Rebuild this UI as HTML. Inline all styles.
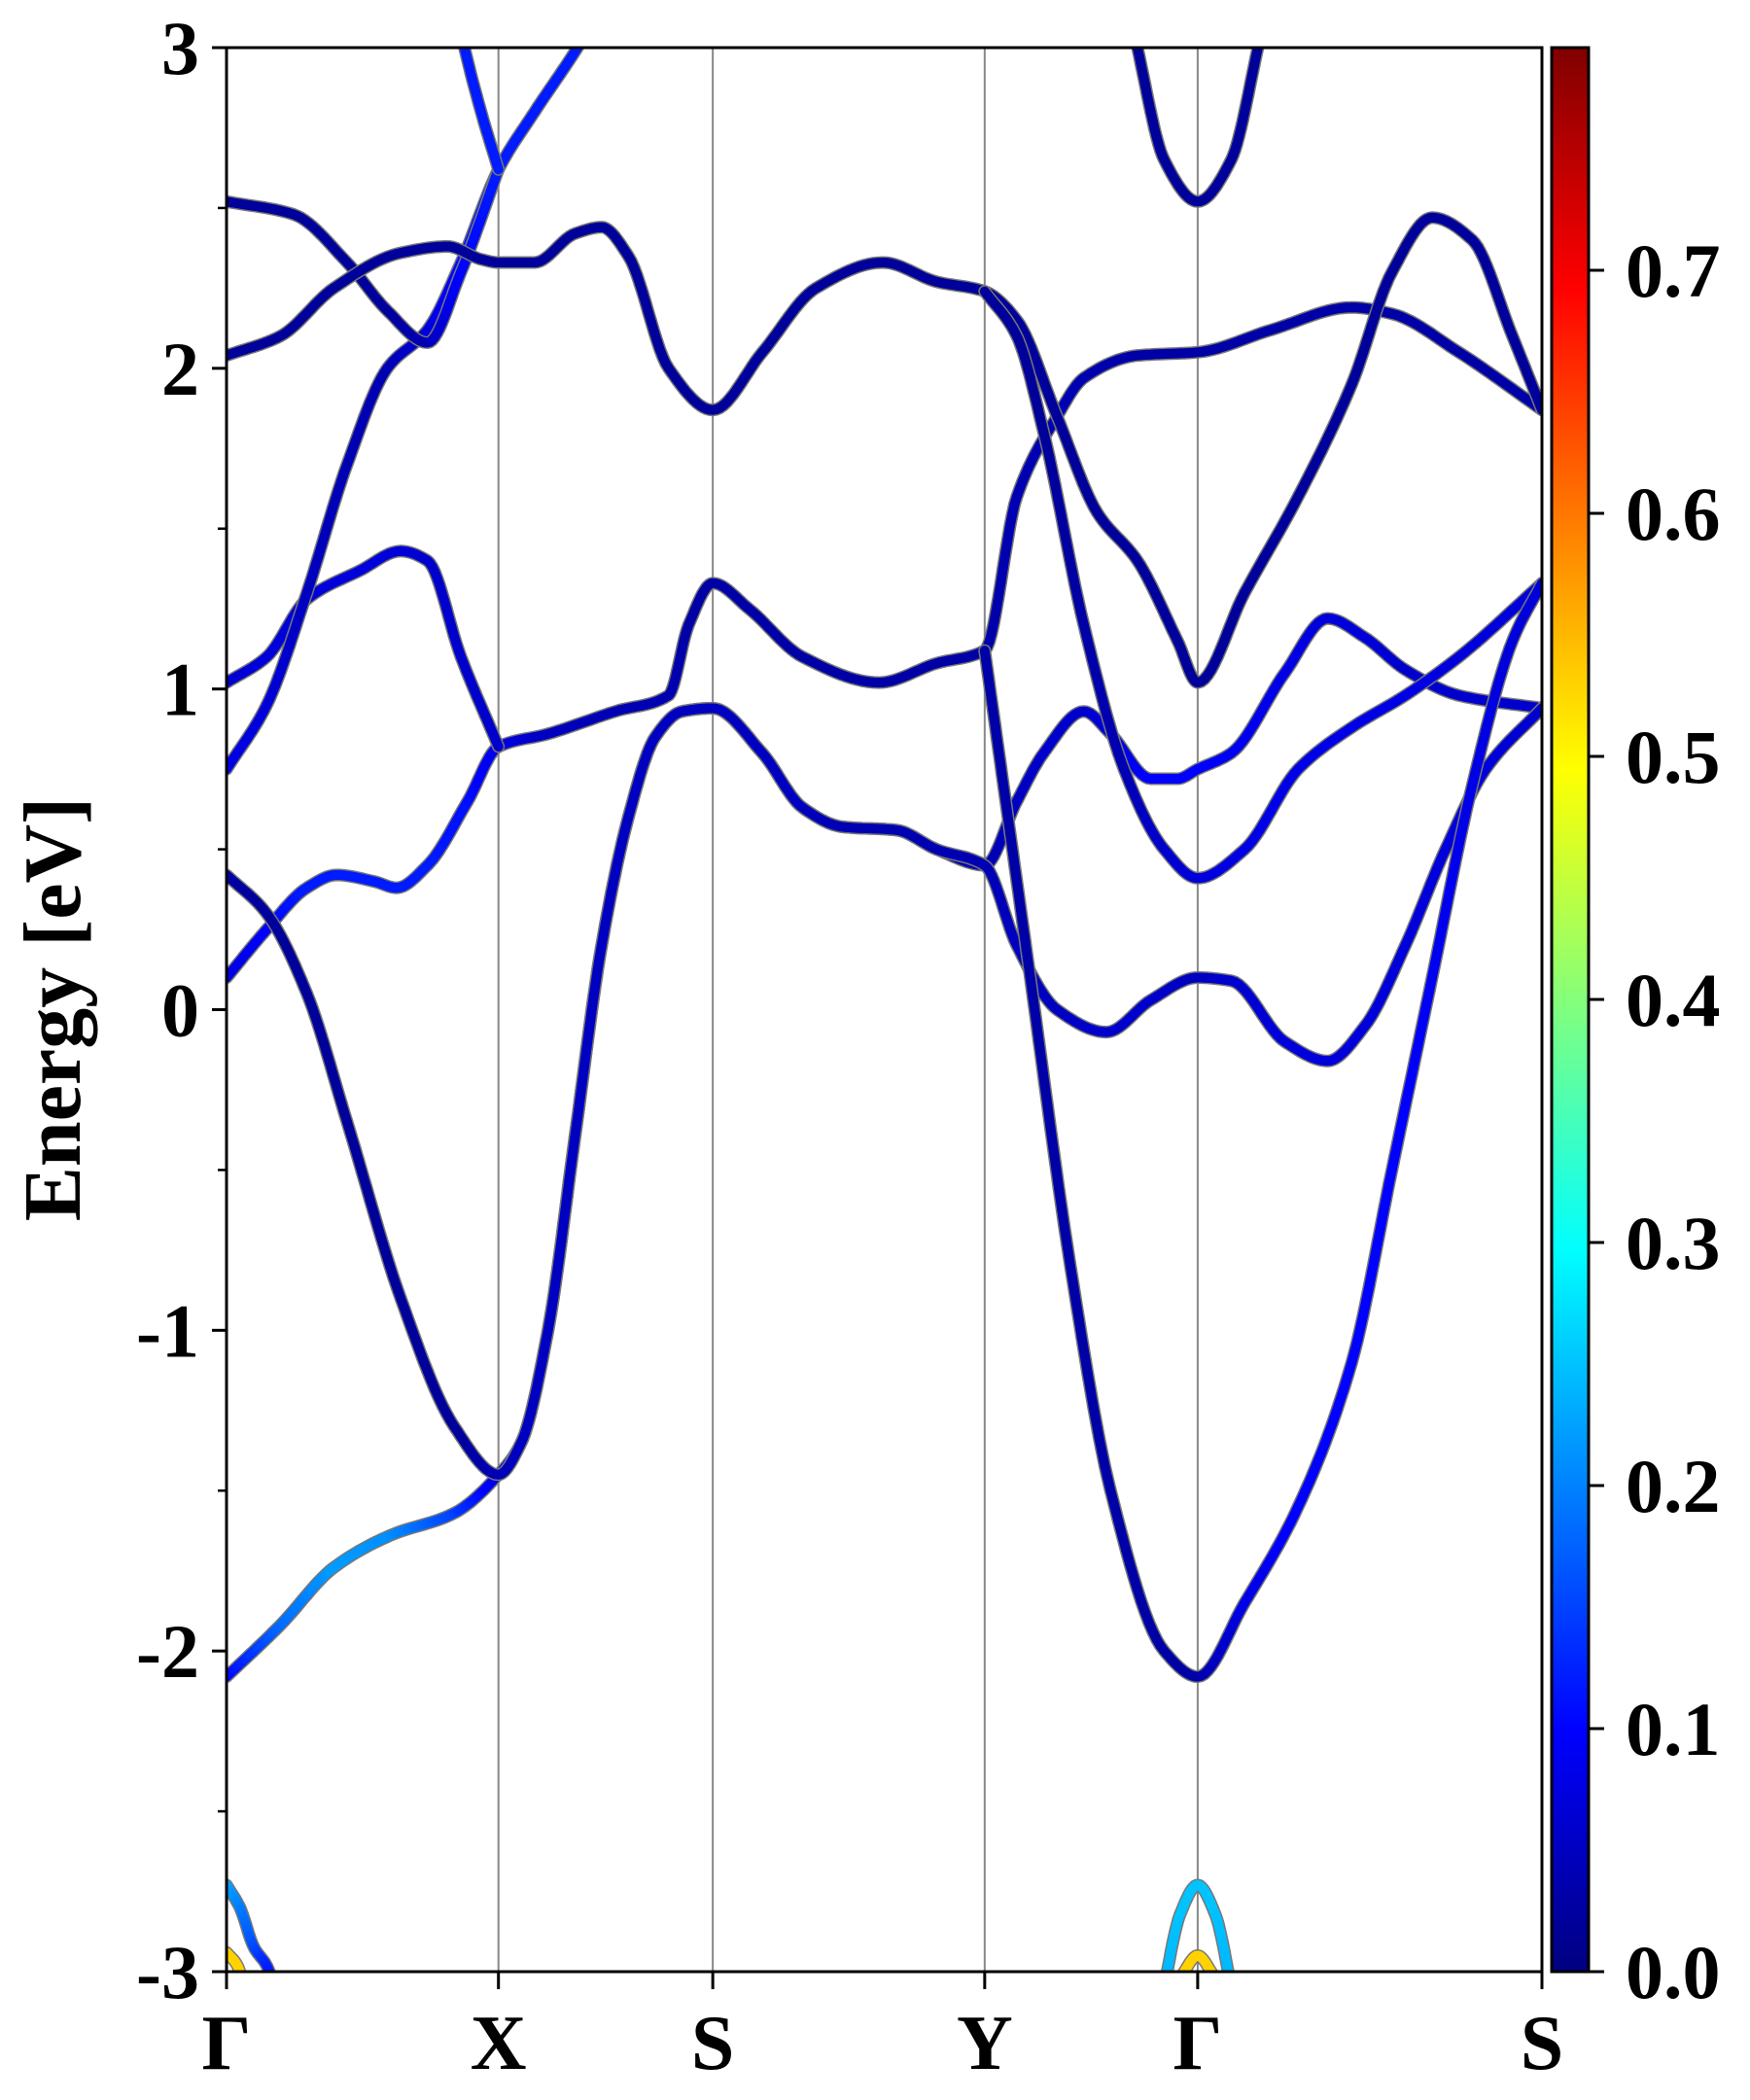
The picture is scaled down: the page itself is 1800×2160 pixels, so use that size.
<!DOCTYPE html>
<html><head><meta charset="utf-8">
<style>
html,body{margin:0;padding:0;background:#fff;}
svg{display:block;}
text{font-family:"Liberation Serif",serif;font-weight:bold;fill:#000;}
</style></head>
<body>
<svg id="chart" width="1800" height="2160" viewBox="0 0 1800 2160" xmlns="http://www.w3.org/2000/svg">
<defs>
<clipPath id="plotclip"><rect x="233" y="49" width="1353" height="1979"/></clipPath>
<linearGradient id="jet" x1="0" y1="1" x2="0" y2="0">
<stop offset="0" stop-color="#000080"/>
<stop offset="0.125" stop-color="#0000ff"/>
<stop offset="0.375" stop-color="#00ffff"/>
<stop offset="0.625" stop-color="#ffff00"/>
<stop offset="0.875" stop-color="#ff0000"/>
<stop offset="1" stop-color="#800000"/>
</linearGradient>
</defs>
<g id="vlines"></g>
<g id="bands" clip-path="url(#plotclip)"></g>
<rect x="233" y="49" width="1353" height="1979" fill="none" stroke="#000" stroke-width="3"/>
<g id="axes"></g>
<text transform="translate(82,1038) rotate(-90)" text-anchor="middle" font-size="84">Energy [eV]</text>
<rect x="1596" y="49" width="38" height="1979" fill="url(#jet)" stroke="#000" stroke-width="3"/>
<g id="cbar"></g>
</svg>
<script>
const kLabels = ["Γ","X","S","Y","Γ","S"];
const kTicks = [0,203,363,566,725,982];
const yTicks = [-3,-2,-1,0,1,2,3];
const yMinor = [-2.5,-1.5,-0.5,0.5,1.5,2.5];
const cbTicks = [0.0,0.1,0.2,0.3,0.4,0.5,0.6,0.7];
const cbMax = 0.7916;

const b1k=[0,40,80,122,170,203,220,240,260,280,300,320,340,363,400,430,460,500,530,566,590,610,640,660,690,710,725,750,790,822,850,880,920,982];
const b1e=[-2.08,-1.92,-1.74,-1.64,-1.57,-1.45,-1.35,-1.0,-0.4,0.2,0.6,0.85,0.93,0.94,0.8,0.63,0.57,0.56,0.5,0.45,0.65,0.8,0.93,0.86,0.72,0.72,0.75,0.8,1.05,1.22,1.16,1.06,0.98,0.94];
const b1w=[0.1,0.18,0.22,0.21,0.15,0.08,0.07,0.07,0.06,0.06,0.05,0.05,0.05,0.05,0.05,0.05,0.05,0.04,0.04,0.04,0.05,0.06,0.06,0.07,0.1,0.1,0.1,0.09,0.08,0.07,0.07,0.06,0.06,0.06];

const b2k=[0,30,60,82,110,127,150,180,203,240,290,330,345,363,390,430,487,530,566,590,620,640,680,725,780,840,870,920,982];
const b2e=[0.1,0.25,0.38,0.42,0.4,0.38,0.45,0.65,0.82,0.86,0.93,0.98,1.2,1.33,1.25,1.1,1.02,1.08,1.12,1.6,1.85,1.97,2.04,2.05,2.12,2.19,2.17,2.05,1.87];
const b2w=[0.07,0.1,0.12,0.12,0.12,0.12,0.12,0.11,0.08,0.05,0.04,0.04,0.03,0.03,0.03,0.03,0.03,0.03,0.03,0.04,0.04,0.04,0.03,0.03,0.03,0.03,0.03,0.03,0.03];

const b3k=[0,30,60,90,130,170,203,220,240,260,280,300,320,340,363,400,430,460,500,530,566,590,620,657,690,725,750,790,822,850,880,910,940,982];
const b3e=[0.42,0.3,0.05,-0.35,-0.9,-1.3,-1.45,-1.35,-1.0,-0.4,0.2,0.6,0.85,0.93,0.94,0.8,0.63,0.57,0.56,0.5,0.45,0.2,0.0,-0.07,0.03,0.1,0.09,-0.1,-0.16,-0.05,0.2,0.5,0.75,0.94];
const b3w=[0.03,0.02,0.02,0.02,0.02,0.02,0.04,0.05,0.05,0.05,0.05,0.05,0.05,0.05,0.05,0.05,0.05,0.04,0.04,0.04,0.04,0.05,0.05,0.06,0.06,0.05,0.06,0.07,0.07,0.07,0.07,0.07,0.07,0.06];

const b4k=[0,30,60,100,130,150,175,203];
const b4e=[1.02,1.1,1.28,1.37,1.43,1.4,1.1,0.82];
const b4w=[0.06,0.07,0.07,0.07,0.07,0.06,0.06,0.06];

const b5k=[0,30,60,90,120,150,175,203,230,262,290];
const b5e=[0.75,0.95,1.3,1.7,2.0,2.12,2.33,2.62,2.8,3.0,3.2];
const b5w=[0.08,0.07,0.05,0.04,0.04,0.07,0.11,0.12,0.12,0.12,0.12];

const b6k=[0,50,90,120,150,175,203];
const b6e=[2.52,2.48,2.33,2.18,2.08,2.3,2.62];
const b6w=[0.02,0.02,0.02,0.02,0.04,0.1,0.12];

const b15k=[160,175,190,203];
const b15e=[3.4,3.05,2.8,2.62];
const b15w=[0.12,0.12,0.12,0.12];

const b7k=[0,40,80,130,165,190,203,230,260,280,300,330,363,400,440,490,530,566,590,620,650,680,710,725,760,800,840,870,900,930,960,982];
const b7e=[2.04,2.1,2.25,2.36,2.38,2.34,2.33,2.33,2.42,2.44,2.35,2.0,1.87,2.05,2.25,2.33,2.27,2.24,2.15,1.85,1.55,1.4,1.15,1.02,1.3,1.6,1.95,2.3,2.47,2.4,2.1,1.87];
const b7w=[0.02,0.02,0.02,0.02,0.02,0.02,0.02,0.02,0.02,0.02,0.02,0.02,0.02,0.02,0.02,0.02,0.02,0.02,0.02,0.02,0.02,0.02,0.02,0.02,0.02,0.02,0.02,0.02,0.02,0.02,0.02,0.02];

const b8k=[566,590,610,640,670,700,725,760,800,840,880,920,982];
const b8e=[2.24,2.1,1.8,1.2,0.75,0.5,0.41,0.5,0.75,0.88,0.98,1.1,1.33];
const b8w=[0.02,0.02,0.02,0.03,0.04,0.06,0.07,0.08,0.08,0.08,0.08,0.07,0.07];

const b9k=[566,580,600,630,660,700,725,760,800,840,870,900,930,960,982];
const b9e=[1.12,0.7,0.1,-0.8,-1.5,-2.0,-2.08,-1.85,-1.55,-1.1,-0.5,0.1,0.7,1.15,1.33];
const b9w=[0.03,0.03,0.03,0.03,0.03,0.03,0.03,0.08,0.1,0.1,0.1,0.09,0.08,0.07,0.07];

const b10k=[660,680,700,725,750,770,790];
const b10e=[3.4,3.0,2.65,2.52,2.65,3.0,3.4];
const b10w=[0.02,0.02,0.02,0.02,0.02,0.02,0.02];

const b11k=[0,10,20,32,40];
const b11e=[-2.73,-2.8,-2.92,-3.0,-3.2];
const b11w=[0.23,0.2,0.16,0.12,0.11];

const b12k=[690,700,712,725,738,750,760];
const b12e=[-3.3,-3.05,-2.82,-2.73,-2.82,-3.05,-3.3];
const b12w=[0.22,0.24,0.25,0.25,0.25,0.24,0.22];

const b13k=[0,8,16];
const b13e=[-2.94,-2.98,-3.1];
const b13w=[0.53,0.53,0.53];

const b14k=[705,715,725,735,745];
const b14e=[-3.1,-3.0,-2.95,-3.0,-3.1];
const b14w=[0.53,0.53,0.53,0.53,0.53];

const bandsK=[b1k,b2k,b3k,b4k,b5k,b6k,b15k,b7k,b8k,b9k,b10k,b11k,b12k,b13k,b14k];
const bandsE=[b1e,b2e,b3e,b4e,b5e,b6e,b15e,b7e,b8e,b9e,b10e,b11e,b12e,b13e,b14e];
const bandsW=[b1w,b2w,b3w,b4w,b5w,b6w,b15w,b7w,b8w,b9w,b10w,b11w,b12w,b13w,b14w];

const NS="http://www.w3.org/2000/svg";
const X0=233,X1=1586,Y0=49,Y1=2028,KMAX=982;
function xs(k){return X0+k*(X1-X0)/KMAX;}
function ys(e){return Y0+(3-e)*(Y1-Y0)/6;}
function cbY(v){return Y1-v/cbMax*(Y1-Y0);}
function mk(tag,attrs,parent){const el=document.createElementNS(NS,tag);for(const a in attrs)el.setAttribute(a,attrs[a]);parent.appendChild(el);return el;}
function jet(v){
  const t=Math.max(0,Math.min(1,v/cbMax));
  const st=[[0,0,0,128],[0.125,0,0,255],[0.375,0,255,255],[0.625,255,255,0],[0.875,255,0,0],[1,128,0,0]];
  for(let i=1;i<st.length;i++){if(t<=st[i][0]){const a=st[i-1],b=st[i],f=(t-a[0])/(b[0]-a[0]);
    return `rgb(${Math.round(a[1]+(b[1]-a[1])*f)},${Math.round(a[2]+(b[2]-a[2])*f)},${Math.round(a[3]+(b[3]-a[3])*f)})`;}}
  return "rgb(128,0,0)";
}
// monotone cubic (PCHIP) tangents
function pchipSlopes(K,E){
  const n=K.length,h=[],d=[],m=new Array(n).fill(0);
  for(let i=0;i<n-1;i++){h.push(K[i+1]-K[i]);d.push((E[i+1]-E[i])/(K[i+1]-K[i]));}
  if(n===2){m[0]=m[1]=d[0];return m;}
  for(let i=1;i<n-1;i++){
    if(d[i-1]*d[i]<=0)m[i]=0;
    else{const w1=2*h[i]+h[i-1],w2=h[i]+2*h[i-1];m[i]=(w1+w2)/(w1/d[i-1]+w2/d[i]);}
  }
  m[0]=d[0];m[n-1]=d[n-2];
  return m;
}
const vl=document.getElementById('vlines');
for(let i=1;i<kTicks.length-1;i++){
  const l=mk('line',{x1:xs(kTicks[i]),x2:xs(kTicks[i]),y1:Y0,y2:Y1,stroke:'#888',"stroke-width":2},vl);
  
  
}
const bg=document.getElementById('bands');
for(let b=0;b<bandsK.length;b++){
  const K=bandsK[b],E=bandsE[b],W=bandsW[b];
  const g=mk('g',{},bg);
  
  
  const m=pchipSlopes(K,E);
  const pts=[];
  for(let i=0;i<K.length-1;i++){
    const h=K[i+1]-K[i],n=14;
    for(let s=0;s<n;s++){
      const t=s/n,t2=t*t,t3=t2*t;
      const e=(2*t3-3*t2+1)*E[i]+(t3-2*t2+t)*h*m[i]+(-2*t3+3*t2)*E[i+1]+(t3-t2)*h*m[i+1];
      const k=K[i]+t*h;
      const w=W[i]+(W[i+1]-W[i])*t;
      pts.push([xs(k),ys(e),w]);
    }
  }
  pts.push([xs(K[K.length-1]),ys(E[E.length-1]),W[W.length-1]]);
  let d='M'+pts.map(p=>p[0].toFixed(1)+','+p[1].toFixed(1)).join('L');
  mk('path',{d:d,fill:'none',stroke:'#777',"stroke-width":13,"stroke-linejoin":'round',"stroke-linecap":'round'},g);
  for(let i=0;i<pts.length-1;i++){
    mk('line',{x1:pts[i][0].toFixed(1),y1:pts[i][1].toFixed(1),x2:pts[i+1][0].toFixed(1),y2:pts[i+1][1].toFixed(1),stroke:jet((pts[i][2]+pts[i+1][2])/2),"stroke-width":10,"stroke-linecap":'round'},g);
  }
}
const ax=document.getElementById('axes');
yTicks.forEach(v=>{
  const y=ys(v);
  const t=mk('line',{x1:X0-15,x2:X0,y1:y,y2:y,stroke:'#000',"stroke-width":3},ax);
  
  
  const tx=mk('text',{x:X0-28,y:y+27,"text-anchor":'end',"font-size":78},ax);
  
  
  tx.textContent=String(v);
});
yMinor.forEach(v=>{
  const y=ys(v);
  const t=mk('line',{x1:X0-9,x2:X0,y1:y,y2:y,stroke:'#000',"stroke-width":2.5},ax);
  
  
});
kTicks.forEach((k,i)=>{
  const x=xs(k);
  const t=mk('line',{x1:x,x2:x,y1:Y1,y2:Y1+18,stroke:'#000',"stroke-width":3},ax);
  
  
  const tx=mk('text',{x:x,y:2128,"text-anchor":'middle',"font-size":80},ax);
  
  
  tx.textContent=kLabels[i];
});
const cb=document.getElementById('cbar');
cbTicks.forEach(v=>{
  const y=cbY(v);
  const t=mk('line',{x1:1634,x2:1650,y1:y,y2:y,stroke:'#000',"stroke-width":3},cb);
  
  
  const tx=mk('text',{x:1672,y:y+27,"text-anchor":'start',"font-size":78},cb);
  
  
  tx.textContent=v.toFixed(1);
});
</script>
</body></html>
